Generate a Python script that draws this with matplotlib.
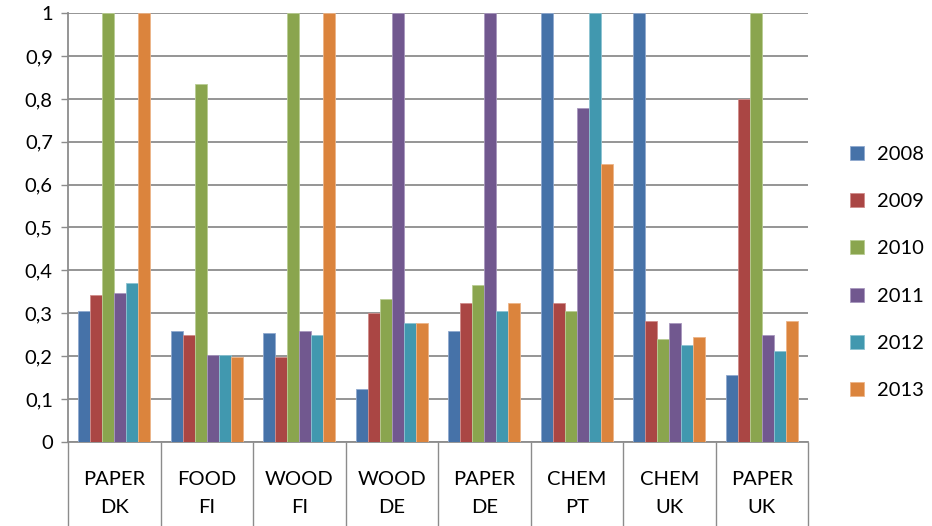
import numpy as np
import matplotlib.pyplot as plt

plt.rcParams['font.family'] = ['Lato', 'DejaVu Sans']

# sectors / countries
categories = ['PAPER\nDK', 'FOOD\nFI', 'WOOD\nFI', 'WOOD\nDE',
              'PAPER\nDE', 'CHEM\nPT', 'CHEM\nUK', 'PAPER\nUK']
years = ['2008', '2009', '2010', '2011', '2012', '2013']

v2008 = [0.306, 0.259, 0.255, 0.123, 0.258, 1.0, 1.0, 0.156]
v2009 = [0.343, 0.249, 0.199, 0.300, 0.324, 0.324, 0.283, 0.800]
v2010 = [1.0, 0.835, 1.0, 0.334, 0.367, 0.305, 0.240, 1.0]
v2011 = [0.347, 0.202, 0.258, 1.0, 1.0, 0.778, 0.278, 0.250]
v2012 = [0.371, 0.202, 0.249, 0.277, 0.305, 1.0, 0.226, 0.212]
v2013 = [1.0, 0.199, 1.0, 0.277, 0.324, 0.648, 0.245, 0.283]
series = [v2008, v2009, v2010, v2011, v2012, v2013]

colors = ['#4672A8', '#AA4644', '#8AA54E', '#71588F', '#4198AF', '#DB843D']
edges = ['#8FA9CF', '#D08C8A', '#B9CD93', '#A897BE', '#8CC3D2', '#EDB488']

fig = plt.figure(figsize=(9.32, 5.26), dpi=100)
ax = fig.add_axes([0.073, 0.160, 0.794, 0.815])

x = np.arange(len(categories))
bw = 0.13
for i, (vals, c, ec) in enumerate(zip(series, colors, edges)):
    ax.bar(x + (i - 2.5) * bw, vals, bw, color=c, edgecolor=ec,
           linewidth=0.6, label=years[i], zorder=3)

ax.set_xlim(-0.5, len(categories) - 0.5)
ax.set_ylim(0, 1)
yt = np.round(np.arange(0, 1.01, 0.1), 1)
ax.set_yticks(yt)
ax.set_yticklabels([('%g' % t).replace('.', ',') for t in yt], fontsize=14.5)
ax.yaxis.grid(True, color='#8C8C8C', linewidth=1.3, zorder=0)

ax.set_xticks(x)
ax.set_xticklabels(categories, fontsize=14.5, linespacing=1.8)
ax.set_xticks(np.arange(-0.5, len(categories), 1), minor=True)
ax.tick_params(axis='x', which='major', length=0, pad=21)
ax.tick_params(axis='x', which='minor', length=62, width=1.0, color='#8C8C8C')
ax.tick_params(axis='y', length=5, width=1.0, color='#8C8C8C', pad=6)

for s in ['top', 'right']:
    ax.spines[s].set_visible(False)
for s in ['left', 'bottom']:
    ax.spines[s].set_color('#8C8C8C')
    ax.spines[s].set_linewidth(1.3)

fig.legend(loc='center left', bbox_to_anchor=(0.893, 0.482), frameon=False,
           fontsize=14.5, handlelength=0.7, handleheight=0.7,
           labelspacing=1.5, handletextpad=0.6)

fig.savefig('out.png', dpi=100)
